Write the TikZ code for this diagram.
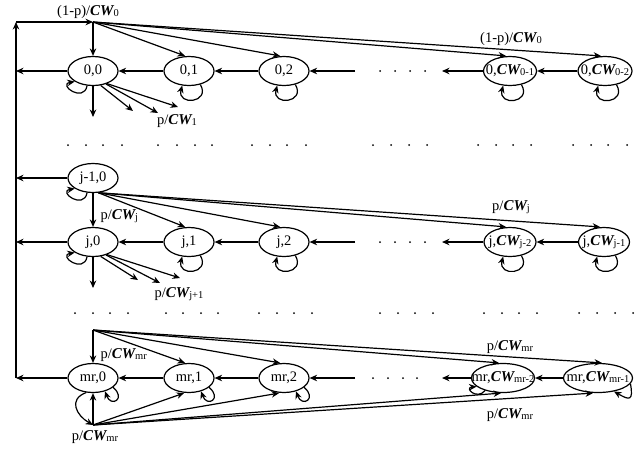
\documentclass[tikz,border=0pt]{standalone}
\usepackage{fontspec}
\setmainfont{Liberation Serif}
\usetikzlibrary{shapes.geometric,arrows.meta}
\newcommand{\CWt}[1]{{\fontsize{15}{15}\selectfont\bfseries\itshape CW}{\fontsize{10.5}{10.5}\selectfont\raisebox{-0.2ex}{#1}}}
\tikzset{
  st/.style={ellipse, draw, line width=1.2pt, inner sep=0pt, minimum width=50pt, minimum height=29pt, font=\fontsize{14.5}{16}\selectfont},
  lbl/.style={font=\fontsize{14.5}{16}\selectfont, inner sep=1pt},
}
\begin{document}
\begin{tikzpicture}[x=1pt,y=1pt,line width=1.2pt,>={Stealth[length=7.5pt,width=6.5pt]}]
\useasboundingbox (0,0) rectangle (639,-448);
% ---------- nodes
\node[st] (n00) at (93,-71) {\makebox[0pt]{0,0}};
\node[st] (n01) at (189,-71) {\makebox[0pt]{0,1}};
\node[st] (n02) at (284,-71) {\makebox[0pt]{0,2}};
\node[st,minimum width=53pt] (n0a) at (510,-71) {\makebox[0pt]{0,\CWt{0-1}}};
\node[st,minimum width=54pt] (n0b) at (605,-71) {\makebox[0pt]{0,\CWt{0-2}}};
\node[st] (nj10) at (93,-178) {\makebox[0pt]{j-1,0}};
\node[st] (nj0) at (93,-242) {\makebox[0pt]{j,0}};
\node[st] (nj1) at (189,-242) {\makebox[0pt]{j,1}};
\node[st] (nj2) at (284,-242) {\makebox[0pt]{j,2}};
\node[st,minimum width=52pt] (nja) at (510,-242) {\makebox[0pt]{j,\CWt{j-2}}};
\node[st,minimum width=51pt] (njb) at (604,-242) {\makebox[0pt]{j,\CWt{j-1}}};
\node[st] (nm0) at (93,-378) {\makebox[0pt]{mr,0}};
\node[st] (nm1) at (189,-378) {\makebox[0pt]{mr,1}};
\node[st] (nm2) at (284,-378) {\makebox[0pt]{mr,2}};
\node[st,minimum width=63pt] (nma) at (503,-378) {\makebox[0pt]{mr,\CWt{mr-2}}};
\node[st,minimum width=69pt] (nmb) at (598,-378) {\makebox[0pt]{mr,\CWt{mr-1}}};
% ---------- coordinates
\coordinate (top) at (93,-22);
\coordinate (corner) at (16,-22);
\coordinate (l0) at (16,-71);
\coordinate (lj1) at (16,-178);
\coordinate (lj) at (16,-242);
\coordinate (lm) at (16,-378);
\coordinate (mrtop) at (93,-330);
\coordinate (mrbot) at (93,-425);
\foreach \r/\y in {0/-71,j/-242,m/-378}{
  \coordinate (s\r) at (355,\y);
  \coordinate (e\r) at (442,\y);
}
\coordinate (d00) at (93,-117);
\coordinate (f01) at (133,-111);
\coordinate (f02) at (158,-113);
\coordinate (f03) at (178,-107);
\coordinate (dj0) at (93,-288);
\coordinate (fj1) at (138,-280);
\coordinate (fj2) at (160,-283);
\coordinate (fj3) at (180,-278);
% ---------- left feedback line
\draw[->] (lm) -- (corner);
\draw[->] (corner) -- (top);
\draw[->] (n00) -- (l0);
\draw[->] (nj10) -- (lj1);
\draw[->] (nj0) -- (lj);
\draw[->] (nm0) -- (lm);
% ---------- row chains
\foreach \r in {0,j,m}{
  \draw[->] (n\r1) -- (n\r0);
  \draw[->] (n\r2) -- (n\r1);
  \draw[->] (s\r) -- (n\r2);
  \draw[->] (n\r a) -- (e\r);
  \draw[->] (n\r b) -- (n\r a);
}
% dots inside rows
\foreach \x in {380,395,410,425}{
  \fill (\x,-71) circle (1pt);
  \fill (\x,-242) circle (1pt);
}
\foreach \x in {373,388,403,417}{
  \fill (\x,-378) circle (1pt);
}
% separator dot rows
\foreach \x in {68,86,103,122,158,177,195,212,252,270,287,306,373,391,409,427,478,496,513,531,573,591,608,627}{
  \fill (\x,-145) circle (1pt);
}
\foreach \x in {75,93,110,128,166,183,201,218,259,277,294,312,380,398,415,433,484,502,519,537,579,597,615,633}{
  \fill (\x,-313) circle (1pt);
}
% ---------- top fan (row 0)
\draw[->] (top) -- (n00);
\draw[->] (top) -- ([xshift=-4pt]n01.north);
\draw[->] (top) -- ([xshift=-4pt]n02.north);
\draw[->] (top) -- ([xshift=-4pt]n0a.north);
\draw[->] (top) -- ([xshift=-4pt]n0b.north);
\node[lbl] (t1) at (88,-12) {(1-p)/\CWt{0}};
\node[lbl] (t2) at (511,-39) {(1-p)/\CWt{0}};
% row 0 lower fan
\draw[->] (n00) -- (d00);
\draw[->] (n00.-62) -- (f01);
\draw[->] (n00.-45) -- (f02);
\draw[->] (n00.-42) -- (f03);
\node[lbl] (t3) at (177,-121) {p/\CWt{1}};
% ---------- j-1 fan
\draw[->] (nj10) -- (nj0);
\node[lbl,anchor=west] (t4) at (99,-216) {p/\CWt{j}};
\draw[->] (nj10.-70) -- ([xshift=-4pt]nj1.north);
\draw[->] (nj10.-70) -- ([xshift=-4pt]nj2.north);
\draw[->] (nj10.-70) -- ([xshift=-4pt]nja.north);
\draw[->] (nj10.-70) -- ([xshift=-4pt]njb.north);
\node[lbl] (t5) at (511,-207) {p/\CWt{j}};
% j lower fan
\draw[->] (nj0) -- (dj0);
\draw[->] (nj0.-62) -- (fj1);
\draw[->] (nj0.-45) -- (fj2);
\draw[->] (nj0.-42) -- (fj3);
\node[lbl] (t6) at (179,-294) {p/\CWt{j+1}};
% ---------- mr fans
\draw[->] (mrtop) -- (nm0);
\draw[->] (mrtop) -- ([xshift=-4pt]nm1.north);
\draw[->] (mrtop) -- ([xshift=-4pt]nm2.north);
\draw[->] (mrtop) -- ([xshift=-4pt]nma.north);
\draw[->] (mrtop) -- ([xshift=4pt]nmb.north);
\node[lbl,anchor=west] (t7) at (99,-355) {p/\CWt{mr}};
\node[lbl] (t8) at (510,-347) {p/\CWt{mr}};
\draw[->] (mrbot) -- (nm0);
\draw[->] (mrbot) -- ([xshift=-5pt]nm1.south);
\draw[->] (mrbot) -- ([xshift=-5pt]nm2.south);
\draw[->] (mrbot) -- ([xshift=-2pt]nma.south);
\draw[->] (mrbot) -- ([xshift=-5pt]nmb.south);
\node[lbl] (t9) at (510,-415) {p/\CWt{mr}};
\node[lbl] (t10) at (95,-437) {p/\CWt{mr}};
\draw[->] (nm0.-115) to[out=200,in=150,looseness=1.5] (mrbot);
% ---------- self loops
\foreach \n in {n00,nj10,nj0}{
  \draw[->] (\n.-112) to[out=-100,in=-170,looseness=3.5] (\n.-150);
}
\foreach \n in {n01,n02,n0a,n0b,nj1,nj2,nja,njb}{
  \draw[->] (\n.-50) to[out=-60,in=-105,looseness=3] (\n.-115);
}
\foreach \n in {nm0,nm1,nm2}{
  \draw[->] (\n.-25) to[out=-40,in=-70,looseness=5] (\n.-48);
}
\draw[->] (nma.-145) to[out=-130,in=-175,looseness=3.5] (nma.-162);
\draw[->] (nmb.-10) to[out=-80,in=-30,looseness=2.5] (nmb.-40);
\end{tikzpicture}
\end{document}
